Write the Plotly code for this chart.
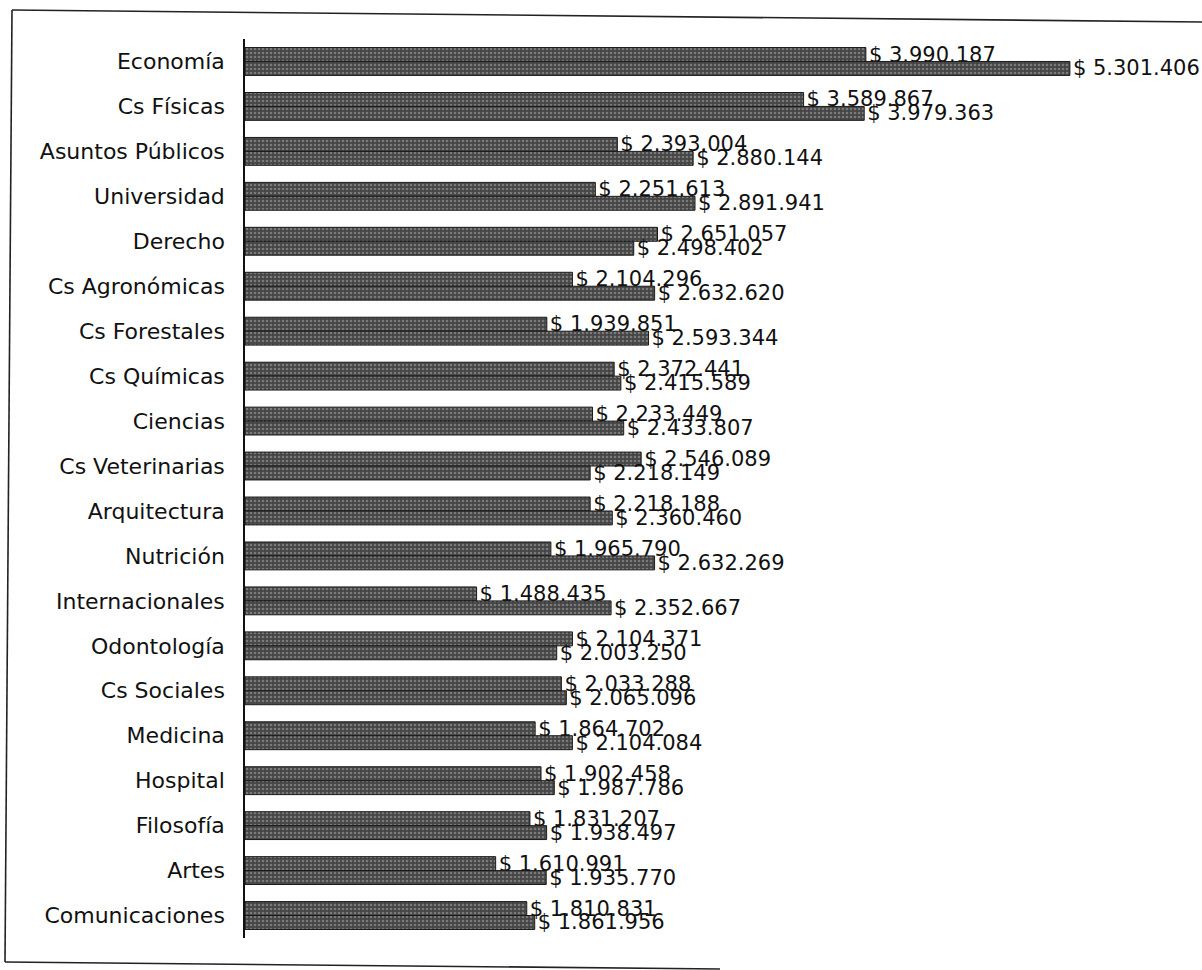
import plotly.graph_objects as go

# Faculty names, top to bottom
categories = [
    "Economía", "Cs Físicas", "Asuntos Públicos", "Universidad", "Derecho",
    "Cs Agronómicas", "Cs Forestales", "Cs Químicas", "Ciencias", "Cs Veterinarias",
    "Arquitectura", "Nutrición", "Internacionales", "Odontología", "Cs Sociales",
    "Medicina", "Hospital", "Filosofía", "Artes", "Comunicaciones",
]

# First series (upper bar of each pair)
serie_1 = [
    3990187, 3589867, 2393004, 2251613, 2651057,
    2104296, 1939851, 2372441, 2233449, 2546089,
    2218188, 1965790, 1488435, 2104371, 2033288,
    1864702, 1902458, 1831207, 1610991, 1810831,
]

# Second series (lower bar of each pair)
serie_2 = [
    5301406, 3979363, 2880144, 2891941, 2498402,
    2632620, 2593344, 2415589, 2433807, 2218149,
    2360460, 2632269, 2352667, 2003250, 2065096,
    2104084, 1987786, 1938497, 1935770, 1861956,
]

W, H = 1202, 970
M_L, M_R, M_T, M_B = 245, 0, 39, 32
FONT = "DejaVu Sans"

bar_style = dict(
    color="#454545",
    line=dict(color="#1a1a1a", width=1),
    pattern=dict(shape=".", fgcolor="#b0b0b0", size=4, solidity=0.35),
)

fig = go.Figure()
for vals in (serie_1, serie_2):
    fig.add_trace(go.Bar(
        y=categories,
        x=vals,
        orientation="h",
        marker=bar_style,
        texttemplate="$ %{x:,.0f}",
        textposition="outside",
        textfont=dict(family=FONT, size=21, color="#111111"),
        constraintext="none",
        cliponaxis=False,
        showlegend=False,
    ))

# Frame lines around the chart, given in pixels and converted to paper units
pw = W - M_L - M_R
ph = H - M_T - M_B


def px(x):
    return (x - M_L) / pw


def py(y):
    return (H - M_B - y) / ph


frame = [
    ((12, 10), (1202, 22)),   # top
    ((12, 10), (5, 962)),     # left
    ((5, 962), (720, 969)),   # bottom
]
shapes = [
    dict(type="line", xref="paper", yref="paper",
         x0=px(a[0]), y0=py(a[1]), x1=px(b[0]), y1=py(b[1]),
         line=dict(color="#222222", width=1.6))
    for a, b in frame
]

fig.update_layout(
    width=W, height=H,
    margin=dict(l=M_L, r=M_R, t=M_T, b=M_B, pad=0),
    paper_bgcolor="white",
    plot_bgcolor="white",
    barmode="group",
    bargap=0.38,
    bargroupgap=0,
    separators=",.",
    shapes=shapes,
    font=dict(family=FONT, color="#111111"),
    xaxis=dict(
        range=[0, pw / 155.6 * 1e6],
        visible=False,
        showgrid=False,
        zeroline=False,
    ),
    yaxis=dict(
        autorange="reversed",
        showline=True,
        linecolor="#111111",
        linewidth=1.5,
        ticks="",
        showgrid=False,
        ticklabelstandoff=14,
        tickfont=dict(family=FONT, size=22, color="#111111"),
    ),
)

fig.write_html("out.html")
